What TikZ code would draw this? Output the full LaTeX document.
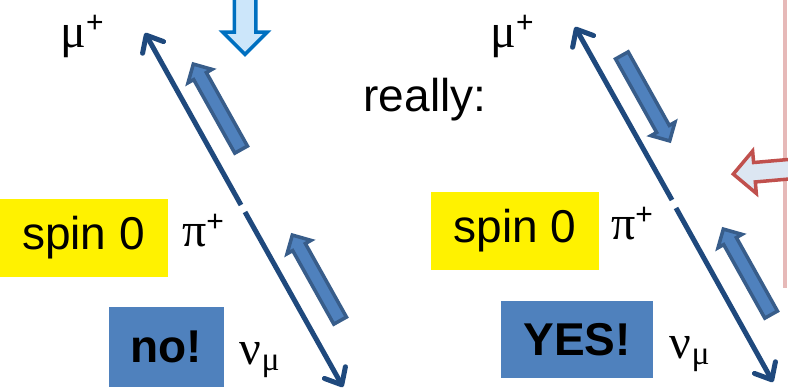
\documentclass[tikz,border=0pt]{standalone}
\usepackage{fontspec}
\setmainfont{Liberation Sans}
\newfontfamily\grk{Liberation Serif}
\usetikzlibrary{arrows.meta,shapes.arrows}
\definecolor{linkblue}{HTML}{1F497D}
\definecolor{spinedge}{HTML}{385D8A}
\definecolor{spinfill}{HTML}{4F81BD}
\definecolor{hintedge}{HTML}{0070C0}
\definecolor{hintfill}{HTML}{CCE6FA}
\definecolor{warnedge}{HTML}{C0504D}
\definecolor{warnfill}{HTML}{DCE6F2}
\definecolor{rule}{HTML}{E6B9B8}
\newcommand\chg{\raisebox{15pt}{\normalfont\fontsize{30}{30}\selectfont+}}

\begin{document}
\begin{tikzpicture}[x=1pt,y=-1pt,
  track/.style={draw=linkblue,line width=5pt,-{Straight Barb[length=14pt,width=24pt,round]}},
  spin/.style={single arrow,draw=spinedge,fill=spinfill,line width=3.5pt,inner sep=5.5pt,single arrow head extend=6.5pt,single arrow head indent=0pt,minimum height=98pt},
  bigarrow/.style={single arrow,line width=3.5pt,single arrow head indent=0pt},
  word/.style={font=\fontsize{46}{50}\selectfont,inner sep=0pt},
  sym/.style={font=\grk\fontsize{48}{52}\selectfont,inner sep=0pt},
  tag/.style={fill=yellow,minimum width=168pt,minimum height=78pt,word},
  verdict/.style={fill=spinfill,word,font=\fontsize{46}{50}\selectfont\bfseries}]
\useasboundingbox (0,0) rectangle (788,389);
\draw[rule,line width=4pt] (785,0) -- (785,288);
\node[bigarrow,draw=hintedge,fill=hintfill,inner sep=9pt,single arrow head extend=11.5pt,minimum height=60pt,rotate=-90] (hint) at (245,19) {};
\node[bigarrow,draw=warnedge,fill=warnfill,inner sep=8pt,single arrow head extend=11.5pt,minimum height=84pt,rotate=185] (warn) at (780,170) {};
% left: what one would expect
\coordinate (muA) at (145,33);
\coordinate (piA1) at (241,205);
\coordinate (piA2) at (245,212);
\coordinate (nuA) at (343,387);
\draw[track] (piA1) -- (muA);
\draw[track] (piA2) -- (nuA);
\node[spin,rotate=119.2] (sA1) at (219,110) {};
\node[spin,rotate=119.2] (sA2) at (318,281) {};
\node[sym] (lmuA) at (82,36) {μ\chg};
\node[sym] (lpiA) at (203,231) {π\chg};
\node[sym] (lnuA) at (260,360) {ν\textsubscript{μ}};
\node[tag] (tagA) at (83.5,237.5) {spin 0};
\node[verdict,minimum width=115pt,minimum height=80pt] (vA) at (166.5,347) {no!};
% right: what happens
\node[word] (really) at (425,100) {really:};
\coordinate (muB) at (575,27);
\coordinate (piB1) at (672,200);
\coordinate (piB2) at (676,208);
\coordinate (nuB) at (773,382);
\draw[track] (piB1) -- (muB);
\draw[track] (piB2) -- (nuB);
\node[spin,rotate=-60.8] (sB1) at (644,95) {};
\node[spin,rotate=119.2] (sB2) at (749,275) {};
\node[sym] (lmuB) at (512,36) {μ\chg};
\node[sym] (lpiB) at (632,224) {π\chg};
\node[sym] (lnuB) at (690,354) {ν\textsubscript{μ}};
\node[tag] (tagB) at (515,230.5) {spin 0};
\node[verdict,minimum width=152pt,minimum height=77pt] (vB) at (577,339.5) {YES!};
\end{tikzpicture}
\end{document}
